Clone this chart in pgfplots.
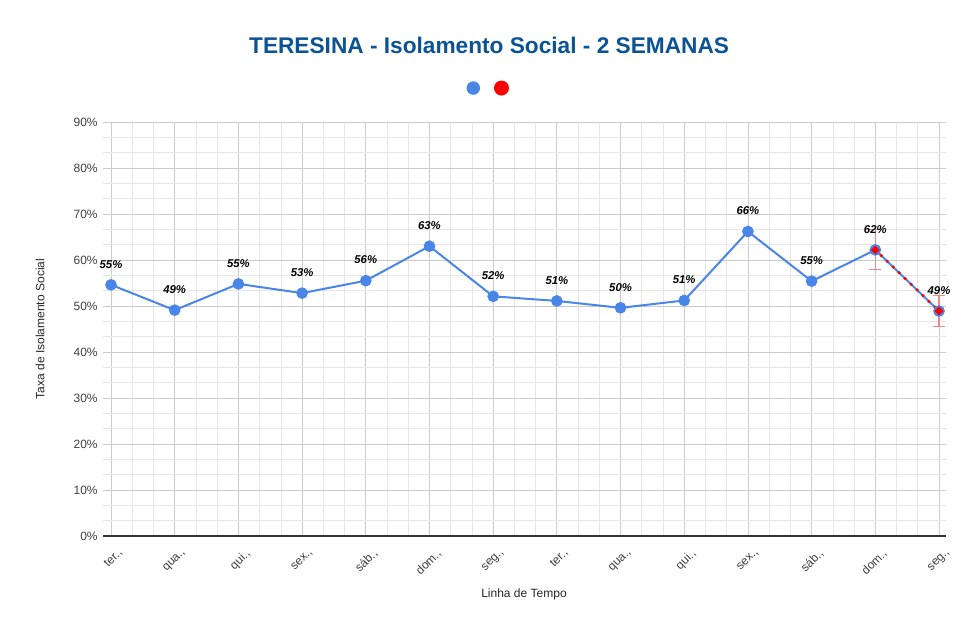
\documentclass[border=0pt]{standalone}
\usepackage{pgfplots}
\pgfplotsset{compat=1.18}
\usepackage{fontspec}
\setmainfont{Liberation Sans}
\definecolor{gblue}{HTML}{4A86E8}
\definecolor{gred}{HTML}{FF0000}
\definecolor{ttl}{HTML}{0B5394}
\definecolor{errc}{HTML}{E88A8A}
\definecolor{majg}{HTML}{CCCCCC}
\definecolor{ming}{HTML}{E6E6E6}
\begin{document}
\begin{tikzpicture}
\useasboundingbox (0,0) rectangle (729pt,475.5pt);
\begin{axis}[
  at={(77.25pt,73.5pt)}, anchor=south west,
  scale only axis, width=632.25pt, height=310.5pt,
  xmin=-0.126, xmax=13.11, ymin=0, ymax=90,
  xtick={0,...,13},
  xticklabels={{ter.,},{qua.,},{qui.,},{sex.,},{sáb.,},{dom.,},{seg.,},{ter.,},{qua.,},{qui.,},{sex.,},{sáb.,},{dom.,},{seg.,}},
  ytick={0,10,...,90},
  yticklabels={0\%,10\%,20\%,30\%,40\%,50\%,60\%,70\%,80\%,90\%},
  minor x tick num=2, minor y tick num=2,
  grid=both,
  major grid style={draw=majg, line width=0.6pt},
  minor grid style={draw=ming, line width=0.5pt},
  major tick length=0pt, minor tick length=0pt,
  axis line style={draw=none},
  extra y ticks={0}, extra y tick labels={},
  extra y tick style={grid=major, major grid style={draw=black!80, line width=1.1pt}},
  tick label style={font=\fontsize{9}{10}\selectfont, color=black!75},
  xticklabel style={rotate=45, anchor=north east, inner sep=0pt, xshift=-3pt, yshift=-9.5pt, font=\fontsize{9}{10}\selectfont},
  yticklabel style={xshift=-0.5pt},
  every axis y label/.style={at={(axis description cs:-0.0747,0.5)}, rotate=90, anchor=center},
  every axis x label/.style={at={(axis description cs:0.4994,-0.140)}, anchor=center},
  ylabel={Taxa de Isolamento Social},
  xlabel={Linha de Tempo},
  label style={font=\fontsize{9}{10}\selectfont, color=black!85},
  title={TERESINA - Isolamento Social - 2 SEMANAS},
  title style={at={(axis description cs:0.458,1.165)}, anchor=center, font=\fontsize{17}{20}\selectfont\bfseries, color=ttl},
  legend style={at={(axis description cs:0.458,1.082)}, anchor=center, draw=none, fill=none, legend columns=2,
    /tikz/every even column/.append style={column sep=8.5pt}, inner sep=0pt, nodes={inner sep=1pt}},
]
\addplot[color=gblue, line width=1.5pt, mark=*, mark size=3.6pt, mark options={fill=gblue, draw=gblue},
  nodes near coords={\pgfmathprintnumber[fixed,precision=0,assume math mode=true]{\pgfplotspointmeta}\%},
  point meta=y,
  every node near coord/.append style={anchor=center, yshift=15.5pt, font=\fontsize{8.5}{10}\selectfont\bfseries\itshape, color=black},
  legend image code/.code={\fill[gblue, solid] (0pt,0pt) circle (4.3pt);}]
coordinates {(0,54.6) (1,49.1) (2,54.8) (3,52.8) (4,55.5) (5,63.0) (6,52.1) (7,51.1) (8,49.6) (9,51.2) (10,66.2) (11,55.4) (12,62.2) (13,48.9)};
\addlegendentry{}
\addplot[color=gred, line width=2.6pt, line cap=round, dash pattern=on 0pt off 6.2pt,
  mark=*, mark size=1.4pt, mark options={solid, fill=gred, draw=gred},
  error bars/.cd, y dir=both, y explicit,
  error bar style={color=errc, line width=0.8pt, solid},
  error mark options={rotate=90, mark size=4.5pt, color=errc, line width=0.8pt, solid},
  /pgfplots/legend image code/.code={\fill[gred, solid] (0pt,0pt) circle (4.3pt);}]
coordinates {(12,62.2) +- (0,4.35) (13,48.9) +- (0,3.42)};
\addlegendentry{}
\end{axis}
\end{tikzpicture}
\end{document}
